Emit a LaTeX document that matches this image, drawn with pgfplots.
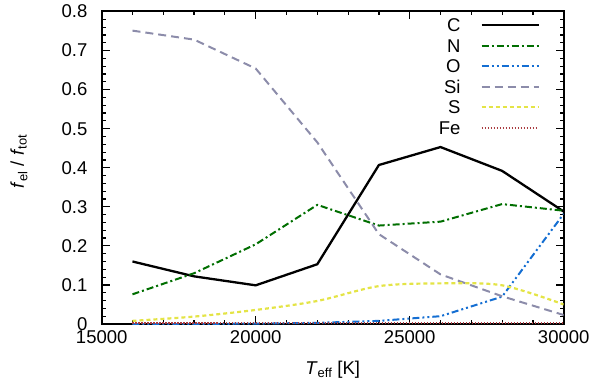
\documentclass[border=0pt]{standalone}
\usepackage{pgfplots}
\pgfplotsset{compat=1.18}
\usepackage{fontspec}
\setmainfont{Liberation Sans}

\definecolor{cN}{RGB}{0,110,0}
\definecolor{cO}{RGB}{20,110,210}
\definecolor{cSi}{RGB}{140,140,170}
\definecolor{cS}{RGB}{228,228,70}
\definecolor{cFe}{RGB}{170,60,65}

\begin{document}
\fontsize{18.5}{22}\selectfont
\begin{tikzpicture}
\begin{axis}[
  scale only axis, width=462pt, height=312.5pt,
  xmin=15000, xmax=30000, ymin=0, ymax=0.8,
  xtick={15000,20000,25000,30000},
  ytick={0,0.1,0.2,0.3,0.4,0.5,0.6,0.7,0.8},
  yticklabels={0,0.1,0.2,0.3,0.4,0.5,0.6,0.7,0.8},
  minor x tick num=4, minor y tick num=4,
  tick align=inside,
  major tick length=8pt, minor tick length=4pt,
  axis line style={line width=2pt},
  every tick/.style={black, line width=1.2pt},
  /pgf/number format/assume math mode=true,
  scaled x ticks=false,
  xticklabel style={/pgf/number format/1000 sep={}, font=\fontsize{18.5}{22}\selectfont},
  yticklabel style={font=\fontsize{18.5}{22}\selectfont, xshift=-8pt},
  xlabel={\textit{T}\textsubscript{eff} [K]},
  ylabel={\textit{f}\textsubscript{el} / \textit{f}\textsubscript{tot}},
  xlabel style={at={(axis description cs:0.5,-0.145)}, anchor=center, font=\fontsize{18.5}{22}\selectfont},
  ylabel style={at={(axis description cs:-0.179,0.52)}, anchor=center, font=\fontsize{18.5}{22}\selectfont},
  legend cell align=right,
  legend plot pos=right,
  legend image code/.code={\draw[#1] (0pt,0pt) -- (57pt,0pt);},
  legend style={at={(1,1)}, anchor=north east, xshift=-23.7pt, yshift=-6pt,
    draw=none, fill=none, inner sep=0pt, row sep=5.5pt, column sep=19pt,
    nodes={text height=13pt, text depth=0pt, inner sep=1pt},
    font=\fontsize{18.5}{22}\selectfont},
]
\addplot[black, line width=2.3pt] coordinates {
 (16000,0.160) (18000,0.122) (20000,0.099) (22000,0.153)
 (24000,0.407) (26000,0.453) (28000,0.392) (30000,0.288)};
\addlegendentry{C}
\addplot[cN, line width=2pt, dash pattern=on 7pt off 3pt on 2pt off 3pt] coordinates {
 (16000,0.076) (18000,0.130) (20000,0.204) (22000,0.305)
 (24000,0.252) (26000,0.262) (28000,0.307) (30000,0.290)};
\addlegendentry{N}
\addplot[cO, line width=2pt, dash pattern=on 7pt off 3pt on 2pt off 3pt on 2pt off 3pt] coordinates {
 (16000,0.000) (18000,0.000) (20000,0.001) (22000,0.003)
 (24000,0.008) (26000,0.020) (28000,0.070) (30000,0.282)};
\addlegendentry{O}
\addplot[cSi, line width=2pt, dash pattern=on 8pt off 5pt] coordinates {
 (16000,0.751) (18000,0.728) (20000,0.654) (22000,0.465)
 (24000,0.230) (26000,0.127) (28000,0.071) (30000,0.023)};
\addlegendentry{Si}
\addplot[cS, line width=2.2pt, dash pattern=on 4pt off 3pt, smooth] coordinates {
 (16000,0.008) (18000,0.019) (20000,0.036) (22000,0.059)
 (24000,0.097) (26000,0.104) (28000,0.099) (30000,0.050)};
\addlegendentry{S}
\addplot[cFe, line width=2pt, dash pattern=on 1.5pt off 1.5pt] coordinates {
 (16000,0.002) (18000,0.002) (20000,0.002) (22000,0.002)
 (24000,0.002) (26000,0.002) (28000,0.002) (30000,0.002)};
\addlegendentry{Fe}
\end{axis}
\pgfresetboundingbox
\path[use as bounding box] ([xshift=-101.7pt,yshift=-67pt]current axis.south west) rectangle ([xshift=36.3pt,yshift=11.5pt]current axis.north east);
\end{tikzpicture}
\end{document}
